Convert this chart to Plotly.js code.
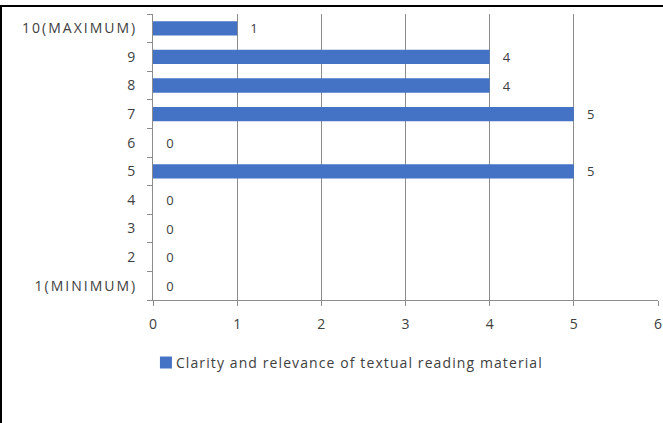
<!DOCTYPE html>
<html>
<head>
<meta charset="utf-8">
<script src="https://cdn.plot.ly/plotly-3.0.1.min.js"></script>
<style>
  html, body { margin: 0; padding: 0; background: #fff; }
  #chart { width: 663px; height: 423px; }
  #frame { position: absolute; left: 0px; top: 5px; width: 700px; height: 500px;
           border-top: 2px solid #000; border-left: 2px solid #000; pointer-events: none; }
  .ytick text { letter-spacing: 2px; }
  .legendtext { letter-spacing: 1.1px; }
</style>
</head>
<body>
<div id="chart"></div>
<div id="frame"></div>
<script>
const categories = ["1(MINIMUM)", "2", "3", "4", "5", "6", "7", "8", "9", "10(MAXIMUM)"];
const values = [0, 0, 0, 0, 5, 0, 5, 4, 4, 1];
const seriesName = "Clarity and relevance of textual reading material";
const xTicks = [0, 1, 2, 3, 4, 5, 6];

const FONT = "Open Sans, Noto Sans, sans-serif";
const TXT = "#404040";

const trace = {
  type: "bar",
  orientation: "h",
  y: categories,
  x: values,
  name: seriesName,
  marker: { color: "#4472C4" },
  text: values.map(v => "   " + v),
  textposition: "outside",
  constraintext: "none",
  cliponaxis: false,
  textfont: { family: FONT, size: 13, color: TXT },
  hoverinfo: "none"
};

const layout = {
  width: 663,
  height: 423,
  margin: { l: 153, r: 5, t: 14, b: 123 },
  paper_bgcolor: "#ffffff",
  plot_bgcolor: "#ffffff",
  bargap: 0.5,
  showlegend: true,
  legend: {
    orientation: "h",
    x: -0.014, xanchor: "left",
    y: -0.164, yanchor: "top",
    font: { family: FONT, size: 14, color: TXT },
    itemwidth: 30
  },
  xaxis: {
    range: [0, 6],
    tickvals: xTicks,
    ticktext: xTicks.map(String),
    showgrid: true,
    gridcolor: "#8c8c8c",
    gridwidth: 1,
    zeroline: false,
    showline: true,
    linecolor: "#8c8c8c",
    ticks: "outside",
    ticklen: 5,
    tickcolor: "#8c8c8c",
    ticklabelstandoff: 6,
    tickfont: { family: FONT, size: 14, color: TXT },
    fixedrange: true
  },
  yaxis: {
    type: "category",
    categoryorder: "array",
    categoryarray: categories,
    showgrid: false,
    zeroline: false,
    showline: true,
    linecolor: "#8c8c8c",
    ticks: "outside",
    ticklen: 5,
    tickcolor: "#8c8c8c",
    tickson: "boundaries",
    ticklabelstandoff: 12,
    tickfont: { family: FONT, size: 14, color: TXT },
    fixedrange: true
  }
};

Plotly.newPlot("chart", [trace], layout, { displayModeBar: false, staticPlot: true }).then(function () {
  document.querySelectorAll("#chart .legendtext").forEach(function (t) {
    t.setAttribute("x", "30");
  });
  document.querySelectorAll("#chart .legend [clip-path]").forEach(function (e) {
    e.removeAttribute("clip-path");
  });
});
</script>
</body>
</html>
